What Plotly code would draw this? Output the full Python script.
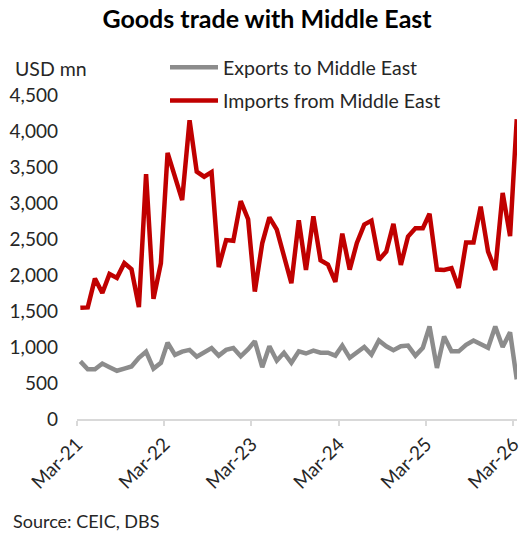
import pandas as pd
import plotly.graph_objects as go

# Monthly goods trade with the Middle East, USD mn, Mar-2021 .. Mar-2026
start_month = "2021-03"
n_months = 61

exports = [800, 690, 690, 770, 720, 670, 700, 730, 850, 935, 700, 780,
           1060, 890, 935, 960, 865, 925, 985, 880, 960, 985, 870, 970,
           1080, 720, 1010, 810, 920, 780, 940, 910, 950, 920, 920, 880,
           1020, 850, 930, 1000, 895, 1090, 1010, 955, 1010, 1020, 880, 990,
           1285, 710, 1145, 940, 940, 1030, 1090, 1040, 990, 1285, 1000, 1205,
           550]

imports = [1545, 1550, 1950, 1750, 2015, 1960, 2165, 2080, 1555, 3400, 1670, 2165,
           3695, 3350, 3040, 4150, 3435, 3365, 3430, 2110, 2485, 2475, 3025, 2775,
           1770, 2440, 2800, 2630, 2260, 1885, 2760, 2070, 2815, 2205, 2145, 1905,
           2575, 2075, 2445, 2700, 2755, 2210, 2325, 2710, 2140, 2535, 2650, 2650,
           2850, 2075, 2070, 2095, 1820, 2450, 2450, 2950, 2325, 2070, 3140, 2540,
           4165]

# monthly observations plotted at mid-month
months = pd.date_range(start_month, periods=n_months, freq="MS") + pd.Timedelta(days=14)

tick_dates = ["2021-03-01", "2022-03-01", "2023-03-01", "2024-03-01", "2025-03-01", "2026-03-01"]
tick_text = ["Mar-21", "Mar-22", "Mar-23", "Mar-24", "Mar-25", "Mar-26"]
y_ticks = [0, 500, 1000, 1500, 2000, 2500, 3000, 3500, 4000, 4500]

FONT = "Lato"
TXT = "#262626"

# plot area in pixels: left 77, right 517, top 95, bottom 419.5
PW, PH = 440, 324.5

fig = go.Figure()
fig.add_trace(go.Scatter(
    x=months, y=exports, mode="lines", name="Exports to Middle East",
    line=dict(color="#8C8C8C", width=4.5), legendgroup="exp",
))
fig.add_trace(go.Scatter(
    x=months, y=imports, mode="lines", name="Imports from Middle East",
    line=dict(color="#C00000", width=4.5), legendgroup="imp",
))

fig.update_layout(
    width=523, height=533,
    margin=dict(l=77, r=6, t=95, b=113.5, autoexpand=False),
    paper_bgcolor="white", plot_bgcolor="white",
    font=dict(family=FONT, size=19, color=TXT),
    title=dict(
        text="<b>Goods trade with Middle East</b>",
        x=267 / 523, xanchor="center", xref="container",
        y=1 - 19 / 533, yanchor="middle", yref="container",
        font=dict(family=FONT, size=25, color="#000000"),
    ),
    legend=dict(
        x=(165 - 77) / PW, xanchor="left",
        y=1 + (95 - 48) / PH, yanchor="top",
        bgcolor="rgba(0,0,0,0)",
        font=dict(family=FONT, size=19.5, color=TXT),
        itemwidth=48, tracegroupgap=5, traceorder="grouped",
    ),
    showlegend=True,
    annotations=[
        dict(text="USD mn", xref="paper", yref="paper",
             x=-64 / PW, y=1 + 27 / PH, xanchor="left", yanchor="middle",
             showarrow=False, font=dict(family=FONT, size=19.5, color=TXT)),
        dict(text="Source: CEIC, DBS", xref="paper", yref="paper",
             x=-66 / PW, y=-102 / PH, xanchor="left", yanchor="middle",
             showarrow=False, font=dict(family=FONT, size=18, color=TXT)),
    ],
)

fig.update_xaxes(
    type="date",
    range=["2021-03-01", "2026-03-16"],
    tickvals=tick_dates, ticktext=tick_text, tickangle=-45,
    showgrid=False, zeroline=False,
    showline=True, linecolor="#D9D9D9", linewidth=1.5,
    ticks="outside", ticklen=5, tickcolor="#D9D9D9", tickwidth=1.5,
    tickfont=dict(family=FONT, size=19, color=TXT),
)
fig.update_yaxes(
    range=[0, 4500], tickvals=y_ticks, tickformat=",",
    showgrid=False, zeroline=False, showline=False,
    ticks="", ticklabelstandoff=18,
    tickfont=dict(family=FONT, size=19, color=TXT),
)

fig.write_html("out.html")
